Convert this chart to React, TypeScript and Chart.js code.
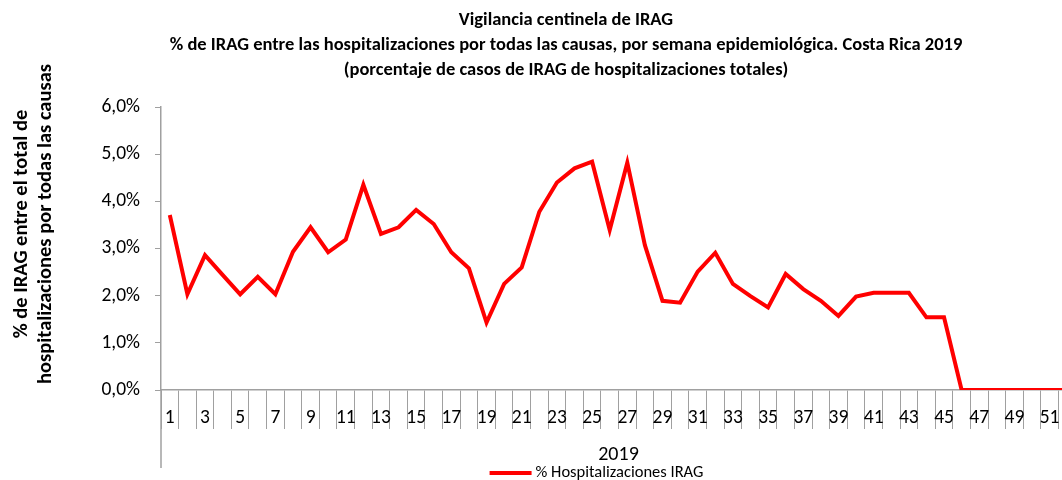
import React, { useEffect, useRef } from 'react';
import { Chart, registerables } from 'chart.js';

Chart.register(...registerables);

const FONT = 'Carlito, Lato, "Liberation Sans", sans-serif';

const titleLines = [
  'Vigilancia centinela de IRAG',
  '% de IRAG entre las hospitalizaciones por todas las causas, por semana epidemiológica. Costa Rica 2019',
  '(porcentaje de casos de IRAG de hospitalizaciones totales)',
];

const yTitleLines = ['% de IRAG entre el total de', 'hospitalizaciones por todas las causas'];

const xGroupLabel = '2019';
const seriesLabel = '% Hospitalizaciones IRAG';

const weeks = [
  '1', '2', '3', '4', '5', '6', '7', '8', '9', '10',
  '11', '12', '13', '14', '15', '16', '17', '18', '19', '20',
  '21', '22', '23', '24', '25', '26', '27', '28', '29', '30',
  '31', '32', '33', '34', '35', '36', '37', '38', '39', '40',
  '41', '42', '43', '44', '45', '46', '47', '48', '49', '50',
  '51', '52',
];

const pctIrag = [
  3.71, 2.03, 2.86, 2.44, 2.03, 2.40, 2.03, 2.93, 3.45, 2.92,
  3.19, 4.35, 3.31, 3.45, 3.82, 3.52, 2.92, 2.58, 1.43, 2.25,
  2.60, 3.78, 4.40, 4.70, 4.84, 3.39, 4.82, 3.07, 1.89, 1.85,
  2.51, 2.91, 2.25, 1.99, 1.75, 2.46, 2.14, 1.89, 1.57, 1.98,
  2.06, 2.06, 2.06, 1.54, 1.54, 0, 0, 0, 0, 0,
  0, 0,
];

const AXIS_GRAY = '#a0a0a0';
const LINE_RED = '#ff0000';

const decor = {
  id: 'decor',
  afterDraw(chart: any) {
    const ctx = chart.ctx;
    const ca = chart.chartArea;
    const xs = chart.scales.x;
    ctx.save();
    // main title
    ctx.fillStyle = '#000';
    ctx.textAlign = 'center';
    ctx.textBaseline = 'middle';
    ctx.font = `bold 18.5px ${FONT}`;
    titleLines.forEach((t, i) => ctx.fillText(t, 566, 20 + i * 25));

    // y axis title
    ctx.save();
    ctx.translate(21.5, 224);
    ctx.rotate(-Math.PI / 2);
    ctx.font = `bold 20.5px ${FONT}`;
    yTitleLines.forEach((t, i) => ctx.fillText(t, 0, i * 24.5));
    ctx.restore();

    // y axis extension through the category band
    ctx.strokeStyle = AXIS_GRAY;
    ctx.lineWidth = 1.5;
    ctx.beginPath();
    ctx.moveTo(ca.left, ca.bottom);
    ctx.lineTo(ca.left, xs.bottom);
    ctx.stroke();

    // legend
    const ds = chart.data.datasets[0];
    ctx.font = `16.5px ${FONT}`;
    const tw = ctx.measureText(ds.label).width;
    const lineW = 42;
    const gap = 4;
    const total = lineW + gap + tw;
    const cx = 596.5;
    const ly = 473;
    const x0 = cx - total / 2;
    ctx.strokeStyle = ds.borderColor;
    ctx.lineWidth = 4;
    ctx.beginPath();
    ctx.moveTo(x0, ly);
    ctx.lineTo(x0 + lineW, ly);
    ctx.stroke();
    ctx.textAlign = 'left';
    ctx.fillStyle = '#000';
    ctx.fillText(ds.label, x0 + lineW + gap, ly);
    ctx.restore();
  },
};

export default function App() {
  const ref = useRef<HTMLCanvasElement>(null);

  useEffect(() => {
    if (!ref.current) return;
    const chart = new Chart(ref.current, {
      type: 'line',
      data: {
        labels: weeks,
        datasets: [
          {
            label: seriesLabel,
            data: pctIrag,
            borderColor: LINE_RED,
            backgroundColor: LINE_RED,
            borderWidth: 4,
            pointRadius: 0,
            tension: 0,
            fill: false,
          },
        ],
      },
      options: {
        animation: false,
        responsive: false,
        maintainAspectRatio: false,
        layout: { padding: { top: 107, bottom: 12, left: 0, right: 24 } },
        plugins: {
          legend: { display: false },
          title: { display: false },
          tooltip: { enabled: false },
        },
        scales: {
          x: {
            type: 'category',
            offset: true,
            grid: {
              display: true,
              offset: true,
              drawOnChartArea: false,
              drawTicks: true,
              tickLength: 39,
              color: AXIS_GRAY,
              lineWidth: 1,
            },
            border: { display: true, color: AXIS_GRAY, width: 1.5 },
            ticks: {
              autoSkip: false,
              maxRotation: 0,
              minRotation: 0,
              padding: -23,
              color: '#000',
              font: { family: FONT, size: 19.5 },
              callback: (_v: any, i: number) => (i % 2 === 0 ? weeks[i] : ''),
            },
            title: {
              display: true,
              text: xGroupLabel,
              color: '#000',
              font: { family: FONT, size: 20 },
              padding: { top: 0, bottom: 1 },
            },
            afterFit: (s: any) => {
              s.height = 78;
            },
          },
          y: {
            min: 0,
            max: 6,
            grid: {
              display: true,
              drawOnChartArea: false,
              drawTicks: true,
              tickLength: 6,
              color: AXIS_GRAY,
              lineWidth: 1,
            },
            border: { display: true, color: AXIS_GRAY, width: 1.5 },
            ticks: {
              stepSize: 1,
              padding: 15,
              color: '#000',
              font: { family: FONT, size: 19.5 },
              callback: (v: any) => Number(v).toFixed(1).replace('.', ',') + '%',
            },
            afterFit: (s: any) => {
              s.width = 161;
            },
          },
        },
      },
      plugins: [decor],
    });
    return () => chart.destroy();
  }, []);

  return (
    <div style={{ position: 'fixed', left: 0, top: 0, width: 1100, height: 480, background: '#fff' }}>
      <canvas ref={ref} width={1100} height={480} style={{ display: 'block' }} />
    </div>
  );
}
